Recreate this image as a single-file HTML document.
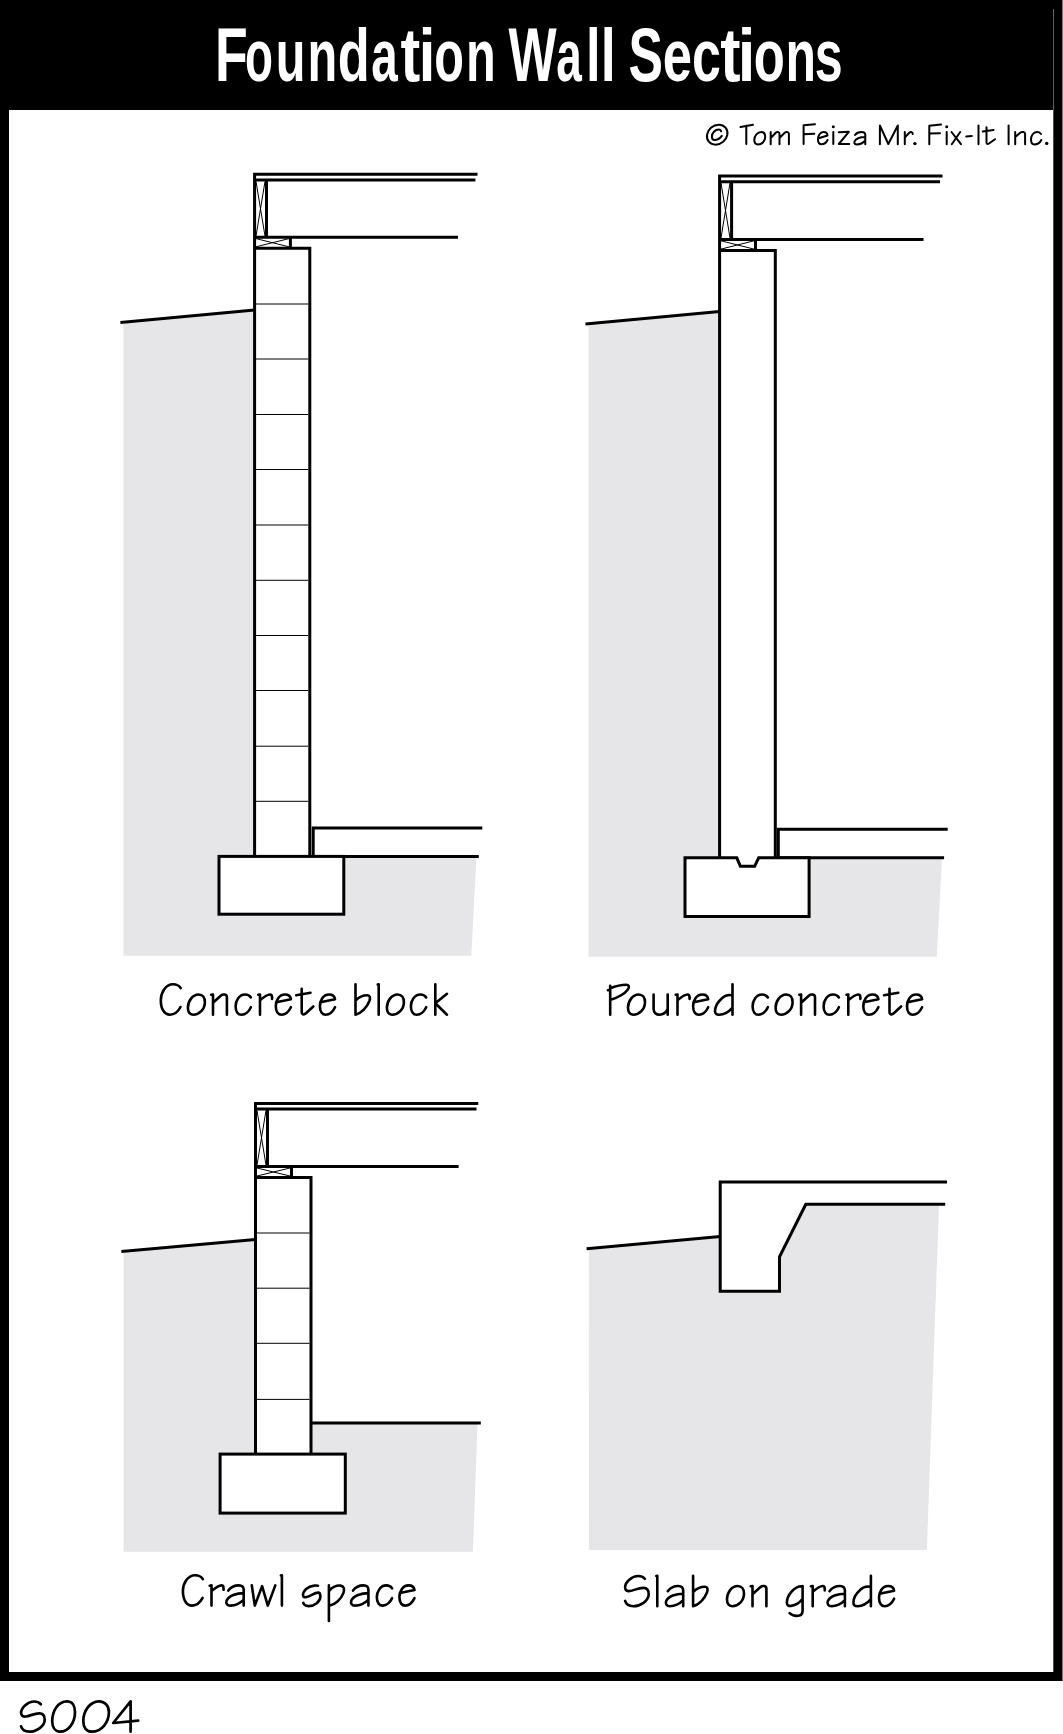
<!DOCTYPE html>
<html><head><meta charset="utf-8"><title>Foundation Wall Sections</title>
<style>
html,body{margin:0;padding:0;background:#fff;}
body{width:1063px;height:1734px;overflow:hidden;}
svg{display:block;}
</style></head><body>
<svg width="1063" height="1734" viewBox="0 0 1063 1734">
<rect x="0" y="0" width="1063" height="1734" fill="#fff"/>
<!-- frame -->
<rect x="0" y="0" width="1062.5" height="1681" fill="#000"/>
<rect x="9" y="110" width="1044.3" height="1562" fill="#fff"/>
<rect x="1053" y="9" width="1" height="101" fill="#606060"/>
<g font-family="Liberation Sans" font-weight="bold" font-size="76.5" fill="#fff">
<text transform="translate(214.91,81.0) scale(0.7008,1.0)">F</text>
<text transform="translate(244.91,81.0) scale(0.5987,0.965)">o</text>
<text transform="translate(275.68,81.0) scale(0.6361,0.965)">u</text>
<text transform="translate(307.49,81.0) scale(0.6361,0.965)">n</text>
<text transform="translate(337.65,81.0) scale(0.6848,0.96)">d</text>
<text transform="translate(371.30,81.0) scale(0.6227,0.965)">a</text>
<text transform="translate(400.48,81.0) scale(0.7752,1.0)">t</text>
<text transform="translate(418.63,81.0) scale(0.7812,0.96)">i</text>
<text transform="translate(434.20,81.0) scale(0.6355,0.965)">o</text>
<text transform="translate(465.89,81.0) scale(0.6361,0.965)">n</text>
<text transform="translate(508.45,81.0) scale(0.6662,1.0)">W</text>
<text transform="translate(556.15,81.0) scale(0.6006,0.965)">a</text>
<text transform="translate(586.04,81.0) scale(0.6860,0.96)">l</text>
<text transform="translate(600.63,81.0) scale(0.7050,0.96)">l</text>
<text transform="translate(628.51,81.0) scale(0.6764,1.0)">S</text>
<text transform="translate(662.75,81.0) scale(0.6876,0.965)">e</text>
<text transform="translate(691.97,81.0) scale(0.6780,0.965)">c</text>
<text transform="translate(720.36,81.0) scale(0.7964,1.0)">t</text>
<text transform="translate(737.87,81.0) scale(0.8289,0.96)">i</text>
<text transform="translate(753.71,81.0) scale(0.6650,0.965)">o</text>
<text transform="translate(785.51,81.0) scale(0.6524,0.965)">n</text>
<text transform="translate(814.83,81.0) scale(0.6563,0.965)">s</text>
</g>
<g fill="none" stroke="#000" stroke-width="2.0" stroke-linecap="round" stroke-linejoin="round">
<ellipse cx="717.2" cy="134.7" rx="10.9" ry="9.3" transform="rotate(-40 717.2 134.7)"/>
<path d="M721.2,131.3 C720.6,130 719.8,129.6 718.9,129.6 C715,129.6 711.9,133 711.9,136.5 C711.9,139 713,140 714.5,140 C717.5,140 720.3,137.8 721.8,135.8"/>
<path d="M740.5,127 L753,124.8 M746.3,125.8 V144"/>
<path d="M761.5,132.1 C764,132.1 765.2,134 765.2,137 C765.2,141 762,144.4 758,144.4 C755.5,144.4 754.3,142.5 754.3,140 C754.3,135.5 757.5,132.1 761.5,132.1Z"/>
<path d="M770.7,132.1 V144.2 M770.7,138 L776,132.5 C777.5,131.5 779.5,132 779.5,134 V144.2 M779.5,138 L785,132.5 C786.5,131.5 788.9,132 788.9,134 V144.2"/>
<path d="M803.6,125.5 V144 M803.6,125.3 L815,124.2 M803.6,134.3 L814.3,133.8"/>
<path d="M819.5,138 L827.5,135.5 C827.3,133.3 825.5,132.1 823.5,132.1 C819.8,132.1 818,136 818,139.5 C818,142.5 819.5,144.3 821.5,144.3 C824,144.3 826.3,142.5 827.5,140"/>
<path d="M833.3,132 V144"/>
<path d="M838.8,132.2 L848.8,131.8 L838.8,144 L849.2,144"/>
<path d="M855,135 C856.5,133 859,132.1 861.5,132.1 C864,132.1 865.3,133 865.3,135 V144.2 M865.3,137 C861,137 856,138.5 854.5,141.5 C853.8,143.5 855,144.4 857,144.4 C860,144.4 863,143 865.3,140.5"/>
<path d="M879.9,144.2 V125.5 L888.3,144 L897.8,125.5 V144.2"/>
<path d="M904.8,132 V144.2 M904.8,137.5 L909.5,132.5 C911,131.5 912.5,132 912.8,134"/>
<path d="M929.3,125.8 V144.2 M929.3,125.8 L941,124.5 M929.3,133.5 L940,133.2"/>
<path d="M946.7,132 V144.2"/>
<path d="M951.5,132 L961,144.2 M960.2,132 L951.8,144.2"/>
<path d="M966.3,136.6 L971.8,136.1"/>
<path d="M978.5,125.5 V144.2"/>
<path d="M986.5,127.2 V142.5 C986.5,144 987.5,144.4 989,143.5 L995,139.2 M982.8,131.6 L993.5,129.9"/>
<path d="M1008.6,125.5 V144.2"/>
<path d="M1015.2,132 V144.2 M1015.2,137 L1020.5,132.5 C1022,131.5 1025.1,131.8 1025.1,134 V144.2"/>
<path d="M1041,134 C1040,132.6 1038.5,132.1 1037,132.1 C1033,132.1 1031,136 1031,139.5 C1031,142.5 1032.5,144.4 1034.5,144.4 C1037.5,144.4 1040,142.5 1041.3,140"/>
</g>
<g fill="#000">
<circle cx="833.3" cy="126.8" r="1.5"/><circle cx="946.7" cy="126.8" r="1.5"/>
<circle cx="914.9" cy="143.6" r="1.7"/><circle cx="1046.7" cy="143.4" r="1.7"/>
</g>

<g fill="none" stroke="#000" stroke-width="3" stroke-linecap="butt" stroke-linejoin="miter">
<!-- ===== D1 Concrete block ===== -->
<path d="M123.5,322.3 L254.6,310 L254.6,856.4 L476.5,856.4 L471.3,955.7 L123.5,955.7 Z" fill="#e6e6e8" stroke="none"/>
<rect x="254.6" y="248.2" width="55.2" height="608.2" fill="#fff" stroke="none"/>
<path d="M120.4,322.5 L254.6,310"/>
<path d="M253.2,174.3 H477.5 M256,180 H475.4 M254.6,172.9 V856.4 M266.5,180 V237.2 M254.6,237.2 H458 M290.4,237.2 V248.2 M254.6,248.2 H311.3 M309.8,248.2 V856.4"/>
<path d="M256,181.5 L265,236 M265,181.5 L256,236 M256,238.6 L289,246.8 M289,238.6 L256,246.8" stroke-width="1"/>
<path d="M256,304.0 H308.3 M256,359.0 H308.3 M256,414.5 H308.3 M256,469.5 H308.3 M256,525.0 H308.3 M256,580.3 H308.3 M256,635.5 H308.3 M256,690.5 H308.3 M256,746.2 H308.3 M256,801.3 H308.3" stroke="#000" stroke-width="1"/>
<path d="M313.2,856.4 V828 H482.3 M310,856.4 H478.8"/>
<rect x="219" y="856.4" width="124.8" height="57.8" fill="#fff"/>

<!-- ===== D2 Poured concrete ===== -->
<path d="M588.5,323.6 L719.6,311.5 L719.6,857.8 L942,857.8 L936.8,956.8 L588.5,956.8 Z" fill="#e6e6e8" stroke="none"/>
<rect x="719.6" y="250.6" width="55.7" height="615" fill="#fff" stroke="none"/>
<path d="M585.5,323.9 L719.6,311.5"/>
<path d="M718.3,176 H942.5 M721,181.8 H940 M719.6,174.5 V857.8 M731.6,181.8 V239.5 M719.6,239.5 H923.5 M755.5,239.5 V250.6 M719.6,250.6 H776.8 M775.3,250.6 V857.8"/>
<path d="M721,183 L730,238 M730,183 L721,238 M721,240.8 L754,249.1 M754,240.8 L721,249.1" stroke-width="1"/>
<path d="M778.3,857.8 V829.2 H947.7 M775.3,857.8 H944.1"/>
<path d="M685,857.8 H736.8 L740.4,866.3 H754.6 L758.7,857.8 H809.1 V916.5 H685 Z" fill="#fff"/>

<!-- ===== D3 Crawl space ===== -->
<path d="M123.6,1251.4 L255.5,1239.4 L311,1239.4 L311,1423 L477.5,1423 L472.9,1551.7 L123.6,1551.7 Z" fill="#e6e6e8" stroke="none"/>
<rect x="255.5" y="1177.4" width="55.5" height="276.7" fill="#fff" stroke="none"/>
<path d="M121.4,1251.6 L255.5,1239.4"/>
<path d="M254,1103.5 H478.3 M257,1109 H476.5 M255.5,1102 V1454.1 M267.5,1109 V1166.5 M255.5,1166.5 H458.6 M291.5,1166.5 V1177.4 M255.5,1177.4 H312.5 M311,1177.4 V1454.1"/>
<path d="M257,1110.5 L266,1165 M266,1110.5 L257,1165 M257,1168 L290,1176 M290,1168 L257,1176" stroke-width="1"/>
<path d="M257,1233.0 H309.5 M257,1288.2 H309.5 M257,1343.3 H309.5 M257,1399.4 H309.5" stroke="#000" stroke-width="1"/>
<path d="M311,1423 H480.8"/>
<rect x="220.1" y="1454.1" width="125.2" height="59" fill="#fff"/>

<!-- ===== D4 Slab on grade ===== -->
<path d="M588.8,1248.5 L720.2,1236.5 L720.2,1291.3 L779.5,1291.3 L779.5,1256.8 L805.8,1204.3 L939,1204.3 L926.9,1549.9 L589,1549.9 Z" fill="#e6e6e8" stroke="none"/>
<path d="M586.6,1248.7 L720.2,1236.5"/>
<path d="M947,1182 H720.2 V1291.3 H779.5 V1256.8 L805.8,1204.3 H945.2"/>
</g>

<defs>
<path id="gC" d="M21.2,-26.5 C19.5,-29.3 16.8,-30.4 13.5,-30.4 C6,-30.4 1.3,-22 1.3,-14.5 C1.3,-5.5 5,0 10.5,0 C15,0 18.8,-3.5 21,-7.7"/>
<path id="go" d="M12,-20.2 C16,-20.2 18.3,-17 18.3,-12.5 C18.3,-5.5 12.5,0 6.5,0 C3,0 1.3,-2.8 1.3,-7 C1.3,-13.5 6,-20.2 12,-20.2 Z"/>
<path id="gn" d="M-1.8,-19.9 L0,-20.2 V0 M0,-12 L8,-19.2 C10,-21 13.9,-20.5 13.9,-17.5 V0"/>
<path id="gc" d="M16.6,-17.2 C15.3,-19.3 13,-20.2 10.7,-20.2 C5,-20.2 1.3,-14 1.3,-8.5 C1.3,-2.5 4,0 7.2,0 C11,0 14.8,-3.5 16.6,-7.5"/>
<path id="gr" d="M-1.8,-19.9 L0,-20.2 V0 M0,-14.5 C3,-17 7,-20.2 10,-20.2 C11.5,-20.2 12,-19 12,-17.5 L12.1,-15.8"/>
<path id="ge" d="M3,-12.8 L16.4,-15.5 C16,-18.5 13.5,-20.2 10.5,-20.2 C4.5,-20.2 1.3,-14 1.3,-8.5 C1.3,-2.5 4,0 7,0 C11,0 14.5,-3.5 16.4,-7.5"/>
<path id="gt" d="M6.8,-26 V-2.5 C6.8,-0.2 8.5,0.3 10.5,-1 L18.4,-8.2 M1.3,-19.4 L15.6,-22"/>
<path id="gb" d="M0,-30.4 V0 M0,-14 C4,-18.5 9,-19.5 12,-19.5 C14.5,-19.5 15,-17 14,-14 C11.5,-7.5 6,-1.5 0,0"/>
<path id="gl" d="M-1,-30.2 L0,-30.4 V0"/>
<path id="gk" d="M0,-30.4 V0 M11.7,-20.9 L0,-11.5 L11.7,0"/>
<path id="gP" d="M-2.3,-24.5 L0,-25 M0,-29 V0 M0,-26.5 C5,-28.5 11,-30 16,-30 C19,-30 19.5,-27.5 17.5,-25 C14,-20.5 7,-17 0.5,-15"/>
<path id="gu" d="M0,-20.2 V-6 C0,-2 2.5,0 6,0 C9.5,0 12.5,-2.5 14.1,-5.5 M14.1,-20.2 V0"/>
<path id="gd" d="M0,-30.4 V0 M-1,-19.5 C-4,-20 -8,-19 -11,-16 C-15.5,-12 -17.5,-7 -17.5,-3.5 C-17.5,-1 -15.8,0 -13.5,0 C-8.5,0 -3,-3.5 0,-7"/>
<path id="gw" d="M1.5,-20.2 L4.5,0 L11.8,-19.5 L17.5,0 L25,-20.2"/>
<path id="ga" d="M-15.4,-15 C-12.9,-18.5 -8.9,-20.2 -4.9,-20.2 C-1.4,-20.2 0,-18.5 0,-15.5 V0 M0,-12.5 C-7,-12.5 -15,-10 -17.1,-5 C-18.1,-2 -16.4,0 -13.4,0 C-8.4,0 -3.4,-2.5 0,-6"/>
<path id="gs" d="M16.4,-19.9 C15,-20.2 14,-20.2 12.5,-20 C6,-19.5 1.4,-14.5 1.4,-10.5 C1.4,-8.5 3,-8 5,-8.5 C9,-9.5 13,-13 16.5,-13 C18.5,-13 18.8,-11 18.8,-9 C18.8,-4 13,0.5 7,0.5 C4,0.5 2.2,-1 1.7,-2.7"/>
<path id="gp" d="M0,-20.2 V15.4 M0,-14.5 C3,-18.5 8,-20.5 11.5,-20 C15,-19.5 16,-16.5 14.5,-12.5 C12,-6 6,-0.8 0.5,0"/>
<path id="gS" d="M21,-27.4 C19,-29.5 17,-30.2 14.4,-30.2 C8,-30.2 1.2,-24 1.2,-19 C1.2,-16 3,-14.8 6,-15.2 C10,-15.8 15,-18.5 19.5,-18.3 C23,-18.2 24.8,-15.5 24.8,-12 C24.8,-5 16,0 9.5,0 C5,0 2.2,-2 1.2,-5.3"/>
<path id="gg" d="M17,-20.2 V4.5 C17,8 14.5,9.7 11,9.7 C8,9.7 5.5,8.5 4,7 M16,-20 C13,-20 9,-18 6,-14.5 C2.5,-10.5 1.3,-6 1.3,-3.5 C1.3,-1 3,0 5.5,-0.3 C10,-1 14.5,-4 17,-7.5"/>
</defs>
<g fill="none" stroke="#000" stroke-width="2.6" stroke-linecap="round" stroke-linejoin="round">
<use href="#gC" x="159.5" y="1014.7"/>
<use href="#go" x="186.6" y="1014.7"/>
<use href="#gn" x="213" y="1014.7"/>
<use href="#gc" x="234.3" y="1014.7"/>
<use href="#gr" x="260" y="1014.7"/>
<use href="#ge" x="274.5" y="1014.7"/>
<use href="#gt" x="294.9" y="1014.7"/>
<use href="#ge" x="318.6" y="1014.7"/>
<use href="#gb" x="355.5" y="1014.7"/>
<use href="#gl" x="378.7" y="1014.7"/>
<use href="#go" x="385.6" y="1014.7"/>
<use href="#gc" x="409.6" y="1014.7"/>
<use href="#gk" x="435.3" y="1014.7"/>
<use href="#gP" x="610.2" y="1014.7"/>
<use href="#go" x="626.7" y="1014.7"/>
<use href="#gu" x="653.6" y="1014.7"/>
<use href="#gr" x="677.5" y="1014.7"/>
<use href="#ge" x="691.8" y="1014.7"/>
<use href="#gd" x="732.5" y="1014.7"/>
<use href="#gc" x="751.3" y="1014.7"/>
<use href="#go" x="774.3" y="1014.7"/>
<use href="#gn" x="801.1" y="1014.7"/>
<use href="#gc" x="822.3" y="1014.7"/>
<use href="#gr" x="848.3" y="1014.7"/>
<use href="#ge" x="862" y="1014.7"/>
<use href="#gt" x="882.7" y="1014.7"/>
<use href="#ge" x="905.7" y="1014.7"/>
<use href="#gC" x="181.6" y="1605.6"/>
<use href="#gr" x="211.5" y="1605.6"/>
<use href="#ga" x="243.7" y="1605.6"/>
<use href="#gw" x="250.3" y="1605.6"/>
<use href="#gl" x="281.9" y="1605.6"/>
<use href="#gs" x="301.6" y="1605.6"/>
<use href="#gp" x="328.9" y="1605.6"/>
<use href="#ga" x="368.4" y="1605.6"/>
<use href="#gc" x="375.5" y="1605.6"/>
<use href="#ge" x="398.1" y="1605.6"/>
<use href="#gS" x="623.9" y="1606.2"/>
<use href="#gl" x="657.3" y="1606.2"/>
<use href="#ga" x="683.2" y="1606.2"/>
<use href="#gb" x="693.1" y="1606.2"/>
<use href="#go" x="725.7" y="1606.2"/>
<use href="#gn" x="752.5" y="1606.2"/>
<use href="#gg" x="785.6" y="1606.2"/>
<use href="#gr" x="812.7" y="1606.2"/>
<use href="#ga" x="844.9" y="1606.2"/>
<use href="#gd" x="870.9" y="1606.2"/>
<use href="#ge" x="877.7" y="1606.2"/>
</g>
<g fill="none" stroke="#000" stroke-width="2.7" stroke-linecap="round" stroke-linejoin="round">
<use href="#gS" x="19.9" y="1731.7"/>
<path d="M67,1701.3 C72.5,1701.3 75,1706 75,1712 C75,1722 69,1731.7 60,1731.7 C55,1731.7 52.2,1727 52.2,1721 C52.2,1711 58,1701.3 67,1701.3Z"/>
<path d="M99,1701.3 C105,1701.3 108.9,1706 108.9,1712 C108.9,1722 102,1731.7 92,1731.7 C86,1731.7 83.3,1727 83.3,1721 C83.3,1711 90,1701.3 99,1701.3Z"/>
<path d="M130.6,1731.7 V1701.3 L113.2,1723 L138.2,1720.7"/>
</g>
</svg>
</body></html>
